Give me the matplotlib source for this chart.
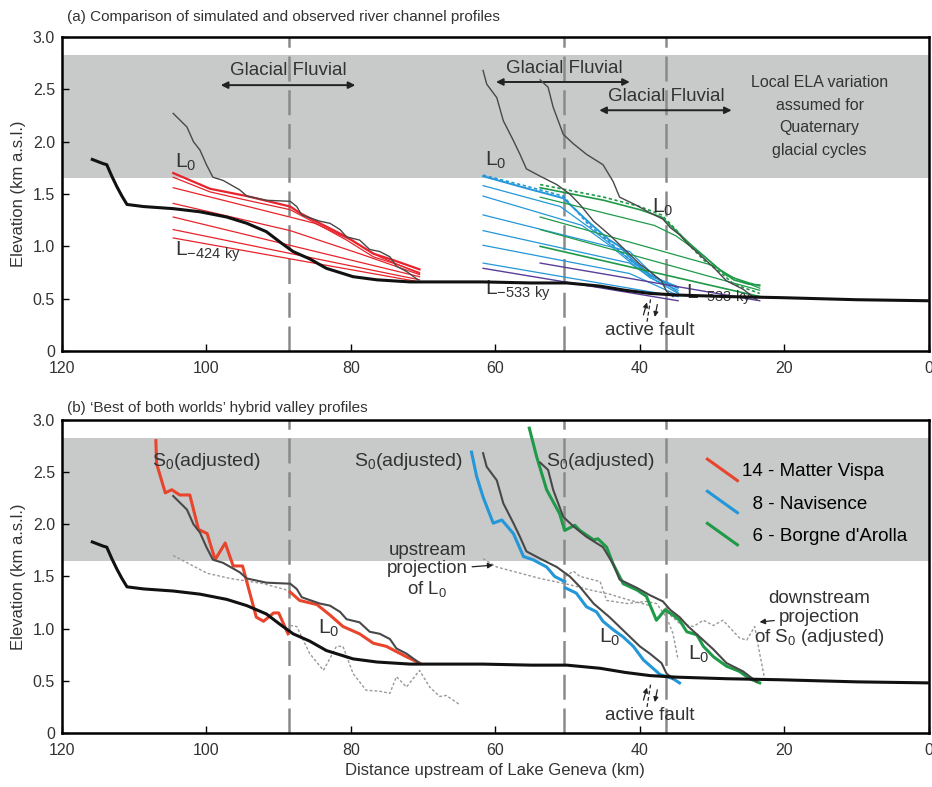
import numpy as np
import matplotlib
matplotlib.use("Agg")
from matplotlib import pyplot as plt
from matplotlib.lines import Line2D
from matplotlib.legend_handler import HandlerLine2D

plt.rcParams['font.family'] = ['Liberation Sans', 'DejaVu Sans']
plt.rcParams['mathtext.default'] = 'regular'

# ---- data (distance upstream of Lake Geneva in km, elevation in km a.s.l.)
ela_band = [1.65, 2.83]
split_km = [88.6, 50.5, 36.4]

trunk_km = [115.8, 114.3, 113.8, 113.1, 112.4, 111.7, 111.0, 108.7, 104.6, 100.9, 97.2, 94.4, 91.7,
            89.8, 88.0, 85.7, 83.4, 79.7, 76.4, 71.8, 66.0, 61.7, 55.0, 50.1, 45.5, 42.0, 38.6,
            34.9, 28.0, 20.6, 10.0, 0.0]
trunk_z = [1.83, 1.79, 1.78, 1.67, 1.57, 1.48, 1.40, 1.38, 1.36, 1.33, 1.28, 1.22, 1.14,
           1.04, 0.95, 0.88, 0.79, 0.71, 0.68, 0.66, 0.66, 0.66, 0.65, 0.65, 0.62, 0.58, 0.55,
           0.535, 0.52, 0.51, 0.49, 0.48]

# observed L0 profiles
mv_obs_km = [104.6, 102.7, 101.8, 100.9, 100.0, 99.1, 97.7, 95.4, 94.4, 91.7, 88.4, 87.5, 86.8,
             84.3, 82.9, 81.5, 80.6, 78.8, 77.4, 76.0, 74.6, 73.7, 72.3, 70.7]
mv_obs_z = [2.27, 2.14, 2.00, 1.92, 1.78, 1.66, 1.63, 1.54, 1.48, 1.44, 1.43, 1.38, 1.30,
            1.24, 1.22, 1.16, 1.09, 1.06, 0.97, 0.95, 0.90, 0.81, 0.76, 0.68]
nav_obs_km = [61.7, 61.2, 59.8, 58.9, 57.5, 56.6, 55.7, 53.8, 51.5, 49.7, 48.3, 46.4, 44.2,
              41.8, 40.0, 38.6, 37.0, 36.3, 35.4]
nav_obs_z = [2.68, 2.55, 2.42, 2.20, 2.01, 1.88, 1.74, 1.67, 1.59, 1.50, 1.40, 1.24, 1.11,
             0.95, 0.83, 0.76, 0.67, 0.57, 0.52]
bor_obs_km = [53.8, 52.7, 52.0, 50.6, 49.2, 47.4, 45.1, 43.7, 42.8, 40.4, 38.6, 36.8, 35.8,
              34.5, 33.3, 31.7, 29.8, 28.0, 25.7, 23.8]
bor_obs_z = [2.59, 2.52, 2.33, 2.07, 1.98, 1.88, 1.78, 1.62, 1.47, 1.39, 1.32, 1.26, 1.18,
             1.11, 1.02, 0.92, 0.80, 0.67, 0.59, 0.49]

# simulated profiles, panel (a)
mv_sim_km = [[104.6, 99.5, 94.4, 88.4, 87.1, 84.3, 80.6, 76.9, 74.2, 70.5],
             [104.6, 99.5, 94.4, 88.4, 84.3, 80.6, 76.9, 74.2, 70.5],
             [104.6, 85.0, 80.0, 76.0, 70.5],
             [104.6, 88.4, 78.8, 70.5],
             [104.6, 70.5],
             [104.6, 70.5],
             [104.6, 70.5]]
mv_sim_z = [[1.70, 1.55, 1.48, 1.38, 1.32, 1.22, 1.09, 0.93, 0.87, 0.78],
            [1.66, 1.52, 1.44, 1.35, 1.20, 1.06, 0.90, 0.84, 0.75],
            [1.56, 1.22, 1.06, 0.90, 0.74],
            [1.41, 1.15, 0.93, 0.73],
            [1.28, 0.71],
            [1.16, 0.68],
            [1.08, 0.66]]
nav_sim_km = [[61.7, 56.0, 50.6, 46.9, 44.2, 42.8, 41.0, 38.6, 37.2, 34.7],
              [61.7, 51.0, 47.0, 44.0, 41.0, 38.6, 34.7],
              [61.7, 48.0, 44.0, 41.0, 38.6, 34.7],
              [61.7, 41.4, 38.0, 34.7],
              [61.7, 41.4, 38.0, 34.7],
              [61.7, 41.4, 34.7],
              [61.7, 34.7]]
nav_sim_z = [[1.67, 1.56, 1.46, 1.22, 1.06, 1.00, 0.87, 0.73, 0.68, 0.61],
             [1.58, 1.38, 1.18, 1.02, 0.85, 0.72, 0.60],
             [1.48, 1.20, 1.00, 0.83, 0.70, 0.58],
             [1.30, 0.95, 0.72, 0.56],
             [1.15, 0.84, 0.68, 0.55],
             [1.01, 0.74, 0.53],
             [0.84, 0.52]]
nav_dash_km = [61.7, 56.0, 50.6, 47.0, 44.0, 41.0, 38.6, 34.7]
nav_dash_z = [1.68, 1.58, 1.48, 1.20, 1.03, 0.85, 0.72, 0.60]
bor_sim_km = [[53.8, 45.0, 40.0, 37.0, 35.0, 33.0, 31.0, 29.0, 27.0, 25.0, 23.4],
              [53.8, 38.0, 35.0, 31.0, 28.0, 23.4],
              [53.8, 30.0, 27.0, 23.4],
              [53.8, 23.4],
              [53.8, 23.4]]
bor_sim_z = [[1.56, 1.44, 1.35, 1.28, 1.15, 1.02, 0.90, 0.78, 0.68, 0.64, 0.63],
             [1.47, 1.20, 1.10, 0.90, 0.72, 0.62],
             [1.28, 0.82, 0.70, 0.60],
             [1.16, 0.58],
             [1.00, 0.52]]
bor_dash_km = [53.8, 45.0, 40.0, 37.0, 35.0, 33.0, 31.0, 29.0, 27.0, 23.4]
bor_dash_z = [1.59, 1.47, 1.38, 1.30, 1.16, 1.00, 0.86, 0.76, 0.64, 0.55]
old_km = [[61.7, 34.7], [53.8, 23.4]]
old_z = [[0.79, 0.48], [0.84, 0.48]]

# panel (b): S0 (adjusted) hybrid profiles
mv_s0_up_km = [107.0, 106.9, 105.7, 104.8, 103.7, 102.3, 101.1, 99.9, 98.8, 97.4, 96.3, 95.0,
               93.1, 92.1, 90.7, 90.0, 88.7]
mv_s0_up_z = [2.80, 2.58, 2.30, 2.33, 2.28, 2.28, 1.95, 1.91, 1.66, 1.82, 1.60, 1.60,
              1.11, 1.07, 1.15, 1.15, 0.95]
mv_s0_dn_km = [88.4, 87.1, 84.7, 82.9, 81.1, 78.8, 76.9, 75.1, 72.3, 70.5]
mv_s0_dn_z = [1.35, 1.27, 1.23, 1.13, 1.02, 0.95, 0.86, 0.83, 0.73, 0.67]
nav_s0_up_km = [63.3, 62.6, 61.7, 60.3, 59.1, 57.5, 56.1, 54.8, 52.9, 51.8, 50.4]
nav_s0_up_z = [2.69, 2.46, 2.26, 2.01, 2.04, 1.91, 1.69, 1.66, 1.59, 1.50, 1.45]
nav_s0_dn_km = [50.3, 48.8, 47.4, 46.0, 45.1, 43.7, 42.3, 40.9, 39.5, 37.2, 35.4, 34.5]
nav_s0_dn_z = [1.39, 1.34, 1.21, 1.16, 1.07, 0.99, 0.92, 0.83, 0.70, 0.56, 0.52, 0.48]
bor_s0_km = [55.3, 54.3, 52.9, 51.1, 50.4, 49.0, 48.3, 46.4, 45.8, 44.6, 43.7, 42.3, 40.4,
             39.1, 37.7, 36.5, 35.4, 34.5, 33.5, 32.1, 31.2, 29.8, 28.0, 26.2, 24.8, 23.4]
bor_s0_z = [2.92, 2.65, 2.33, 2.10, 1.94, 1.99, 1.94, 1.85, 1.86, 1.78, 1.62, 1.43, 1.37,
            1.31, 1.08, 1.18, 1.13, 1.08, 0.97, 0.94, 0.83, 0.73, 0.64, 0.59, 0.52, 0.48]

# projections (dotted)
mv_upproj_km = [104.6, 99.9, 96.7, 92.1, 88.9]
mv_upproj_z = [1.70, 1.53, 1.48, 1.43, 1.37]
nav_upproj_km = [61.7, 59.8, 53.8, 49.7, 46.9, 44.2, 41.8, 38.6]
nav_upproj_z = [1.67, 1.59, 1.48, 1.42, 1.37, 1.33, 1.28, 1.22]
mv_dnproj_km = [88.4, 87.5, 85.7, 83.8, 82.0, 81.1, 79.7, 77.9, 76.0, 74.6, 73.7, 72.3, 70.5,
                69.1, 67.7, 66.8, 64.9]
mv_dnproj_z = [1.03, 1.02, 0.76, 0.60, 0.83, 0.83, 0.57, 0.41, 0.40, 0.38, 0.54, 0.44, 0.60,
               0.44, 0.35, 0.36, 0.27]
nav_dnproj_km = [50.3, 49.2, 48.3, 45.5, 44.6, 41.8, 39.1, 37.7, 36.3, 35.4, 34.7]
nav_dnproj_z = [1.50, 1.55, 1.50, 1.45, 1.27, 1.24, 1.26, 1.24, 1.11, 0.95, 0.70]
bor_dnproj_km = [36.3, 34.5, 32.6, 31.2, 29.8, 28.5, 26.2, 25.2, 24.1, 23.4, 22.7]
bor_dnproj_z = [1.16, 1.05, 1.02, 1.08, 1.03, 1.08, 0.91, 0.89, 1.02, 0.76, 0.51]

legend_labels = ["14 - Matter Vispa", "  8 - Navisence", "  6 - Borgne d'Arolla"]

red = '#e8232b'
red_b = '#e8452c'
blue = '#2397d8'
green = '#1e9a48'
purple = '#5a3d98'
obs = '#484848'
txt = '#333333'


class DiagHandler(HandlerLine2D):
    def create_artists(self, legend, orig_handle, xdescent, ydescent, width, height,
                       fontsize, trans):
        line = Line2D([-xdescent, -xdescent + width],
                      [height - ydescent + 3, -ydescent - 3])
        self.update_prop(line, orig_handle, legend)
        line.set_transform(trans)
        return [line]


def setup(ax):
    ax.set_xlim(120, 0)
    ax.set_ylim(0, 3)
    ax.axhspan(ela_band[0], ela_band[1], color='#c8c9c9', lw=0, zorder=0)
    for x in split_km:
        ax.axvline(x, color='#8a8a8a', lw=1.8, ls=(0, (10, 3.5)), zorder=1)
    ax.set_xticks([120, 100, 80, 60, 40, 20, 0])
    ax.set_yticks([0, 0.5, 1.0, 1.5, 2.0, 2.5, 3.0])
    ax.set_yticklabels(['0', '0.5', '1.0', '1.5', '2.0', '2.5', '3.0'])
    ax.tick_params(direction='in', length=5, width=1, labelsize=11.5, labelcolor=txt)
    ax.tick_params(axis='x', pad=7)
    ax.tick_params(axis='y', pad=5)
    for s in ax.spines.values():
        s.set_linewidth(1.8)
    ax.set_ylabel('Elevation (km a.s.l.)', fontsize=12, color=txt, labelpad=5)
    ax.plot(trunk_km, trunk_z, color='#111111', lw=2.2, zorder=5)


def fault(ax, zt):
    ax.annotate('', xy=(38.9, zt + 0.29), xytext=(39.6, zt + 0.12),
                arrowprops=dict(arrowstyle='-|>', color='#222', lw=0.9, mutation_scale=7))
    ax.annotate('', xy=(38.0, zt + 0.10), xytext=(37.5, zt + 0.27),
                arrowprops=dict(arrowstyle='-|>', color='#222', lw=0.9, mutation_scale=7))
    ax.plot([39.0, 38.5], [zt + 0.08, zt + 0.30], color='#222', lw=0.9, ls=(0, (3, 2)))
    ax.text(38.6, zt, 'active fault', ha='center', va='center', fontsize=13.5, color=txt)


fig = plt.figure(figsize=(9.32, 7.87), dpi=100)
axa = fig.add_axes([0.0665, 0.554, 0.930, 0.399])
axb = fig.add_axes([0.0665, 0.0686, 0.930, 0.398])

# ---------------- panel (a)
setup(axa)
axa.plot(mv_obs_km, mv_obs_z, color=obs, lw=1.0, zorder=4)
axa.plot(nav_obs_km, nav_obs_z, color=obs, lw=1.0, zorder=4)
axa.plot(bor_obs_km, bor_obs_z, color=obs, lw=1.0, zorder=4)
for i in range(len(mv_sim_km)):
    axa.plot(mv_sim_km[i], mv_sim_z[i], color=red, lw=1.6 if i == 0 else 0.9, zorder=3)
for i in range(len(nav_sim_km)):
    axa.plot(nav_sim_km[i], nav_sim_z[i], color=blue, lw=1.4 if i == 0 else 0.9, zorder=3)
axa.plot(nav_dash_km, nav_dash_z, color=blue, lw=1.2, ls=(0, (2, 1.5)), zorder=3)
for i in range(len(bor_sim_km)):
    axa.plot(bor_sim_km[i], bor_sim_z[i], color=green, lw=1.2 if i in (0, 4) else 0.9, zorder=3)
axa.plot(bor_dash_km, bor_dash_z, color=green, lw=1.2, ls=(0, (2, 1.5)), zorder=3)
for i in range(len(old_km)):
    axa.plot(old_km[i], old_z[i], color=purple, lw=1.0, zorder=3)

arrow = dict(arrowstyle='<|-|>', color='#222', lw=1.4, mutation_scale=10)
axa.annotate('', xy=(79.0, 2.54), xytext=(98.4, 2.54), arrowprops=arrow)
axa.text(88.6, 2.68, 'Glacial Fluvial', ha='center', va='center', fontsize=13.5, color=txt)
axa.annotate('', xy=(41.0, 2.57), xytext=(60.3, 2.57), arrowprops=arrow)
axa.text(50.5, 2.70, 'Glacial Fluvial', ha='center', va='center', fontsize=13.5, color=txt)
axa.annotate('', xy=(26.9, 2.30), xytext=(46.0, 2.30), arrowprops=arrow)
axa.text(36.4, 2.43, 'Glacial Fluvial', ha='center', va='center', fontsize=13.5, color=txt)
axa.text(15.1, 2.24, 'Local ELA variation\nassumed for\nQuaternary\nglacial cycles',
         ha='center', va='center', fontsize=11.5, color=txt, linespacing=1.62)

axa.text(104.3, 1.80, 'L$_0$', fontsize=15, color=txt, va='center')
axa.text(104.3, 0.95, 'L$_{-424\\ ky}$', fontsize=15, color=txt, va='center')
axa.text(61.4, 1.82, 'L$_0$', fontsize=15, color=txt, va='center')
axa.text(61.4, 0.58, 'L$_{-533\\ ky}$', fontsize=15, color=txt, va='center')
axa.text(38.3, 1.37, 'L$_0$', fontsize=15, color=txt, va='center')
axa.text(33.6, 0.54, 'L$_{-533\\ ky}$', fontsize=15, color=txt, va='center')
fault(axa, 0.20)

# ---------------- panel (b)
setup(axb)
axb.plot(mv_upproj_km, mv_upproj_z, color='#999999', lw=1.0, ls=(0, (2, 1.5)), zorder=2)
axb.plot(nav_upproj_km, nav_upproj_z, color='#999999', lw=1.0, ls=(0, (2, 1.5)), zorder=2)
axb.plot(mv_dnproj_km, mv_dnproj_z, color='#999999', lw=1.0, ls=(0, (2, 1.5)), zorder=2)
axb.plot(nav_dnproj_km, nav_dnproj_z, color='#999999', lw=1.0, ls=(0, (2, 1.5)), zorder=2)
axb.plot(bor_dnproj_km, bor_dnproj_z, color='#999999', lw=1.0, ls=(0, (2, 1.5)), zorder=2)
axb.plot(mv_obs_km, mv_obs_z, color=obs, lw=1.5, zorder=4)
axb.plot(nav_obs_km, nav_obs_z, color=obs, lw=1.5, zorder=4)
axb.plot(bor_obs_km, bor_obs_z, color=obs, lw=1.5, zorder=4)
axb.plot(mv_s0_up_km, mv_s0_up_z, color=red_b, lw=2.2, zorder=3)
axb.plot(mv_s0_dn_km, mv_s0_dn_z, color=red_b, lw=2.2, zorder=3)
axb.plot(nav_s0_up_km, nav_s0_up_z, color=blue, lw=2.2, zorder=3)
axb.plot(nav_s0_dn_km, nav_s0_dn_z, color=blue, lw=2.2, zorder=3)
axb.plot(bor_s0_km, bor_s0_z, color=green, lw=2.2, zorder=3)

handles = [Line2D([], [], color=c, lw=2.2) for c in (red_b, blue, green)]
axb.legend(handles, legend_labels, loc='upper left', bbox_to_anchor=(0.736, 0.885),
           frameon=False, fontsize=13.5, handlelength=1.6, handletextpad=0.25,
           labelspacing=0.8, borderaxespad=0, handler_map={Line2D: DiagHandler()})

for xk in (100.0, 72.1, 45.5):
    axb.text(xk, 2.60, 'S$_0$(adjusted)', ha='center', va='center', fontsize=14, color=txt)
axb.text(69.4, 1.56, 'upstream\nprojection\nof L$_0$', ha='center', va='center',
         fontsize=13.5, color=txt, linespacing=1.1)
axb.annotate('', xy=(59.9, 1.61), xytext=(63.6, 1.59),
             arrowprops=dict(arrowstyle='-|>', color='#222', lw=0.9, mutation_scale=8))
axb.text(15.1, 1.09, 'downstream\nprojection\nof S$_0$ (adjusted)', ha='center', va='center',
         fontsize=13.5, color=txt, linespacing=1.1)
axb.annotate('', xy=(23.8, 1.06), xytext=(21.0, 1.08),
             arrowprops=dict(arrowstyle='-|>', color='#222', lw=0.9, mutation_scale=8))
axb.text(84.6, 1.00, 'L$_0$', fontsize=15, color=txt, va='center')
axb.text(45.6, 0.92, 'L$_0$', fontsize=15, color=txt, va='center')
axb.text(33.3, 0.75, 'L$_0$', fontsize=15, color=txt, va='center')
fault(axb, 0.17)
axb.set_xlabel('Distance upstream of Lake Geneva (km)', fontsize=12, color=txt, labelpad=4)

fig.text(0.072, 0.978, '(a) Comparison of simulated and observed river channel profiles',
         fontsize=11, color=txt, va='center')
fig.text(0.072, 0.482, "(b) \u2018Best of both worlds\u2019 hybrid valley profiles",
         fontsize=11, color=txt, va='center')

fig.savefig('out.png', dpi=100)
